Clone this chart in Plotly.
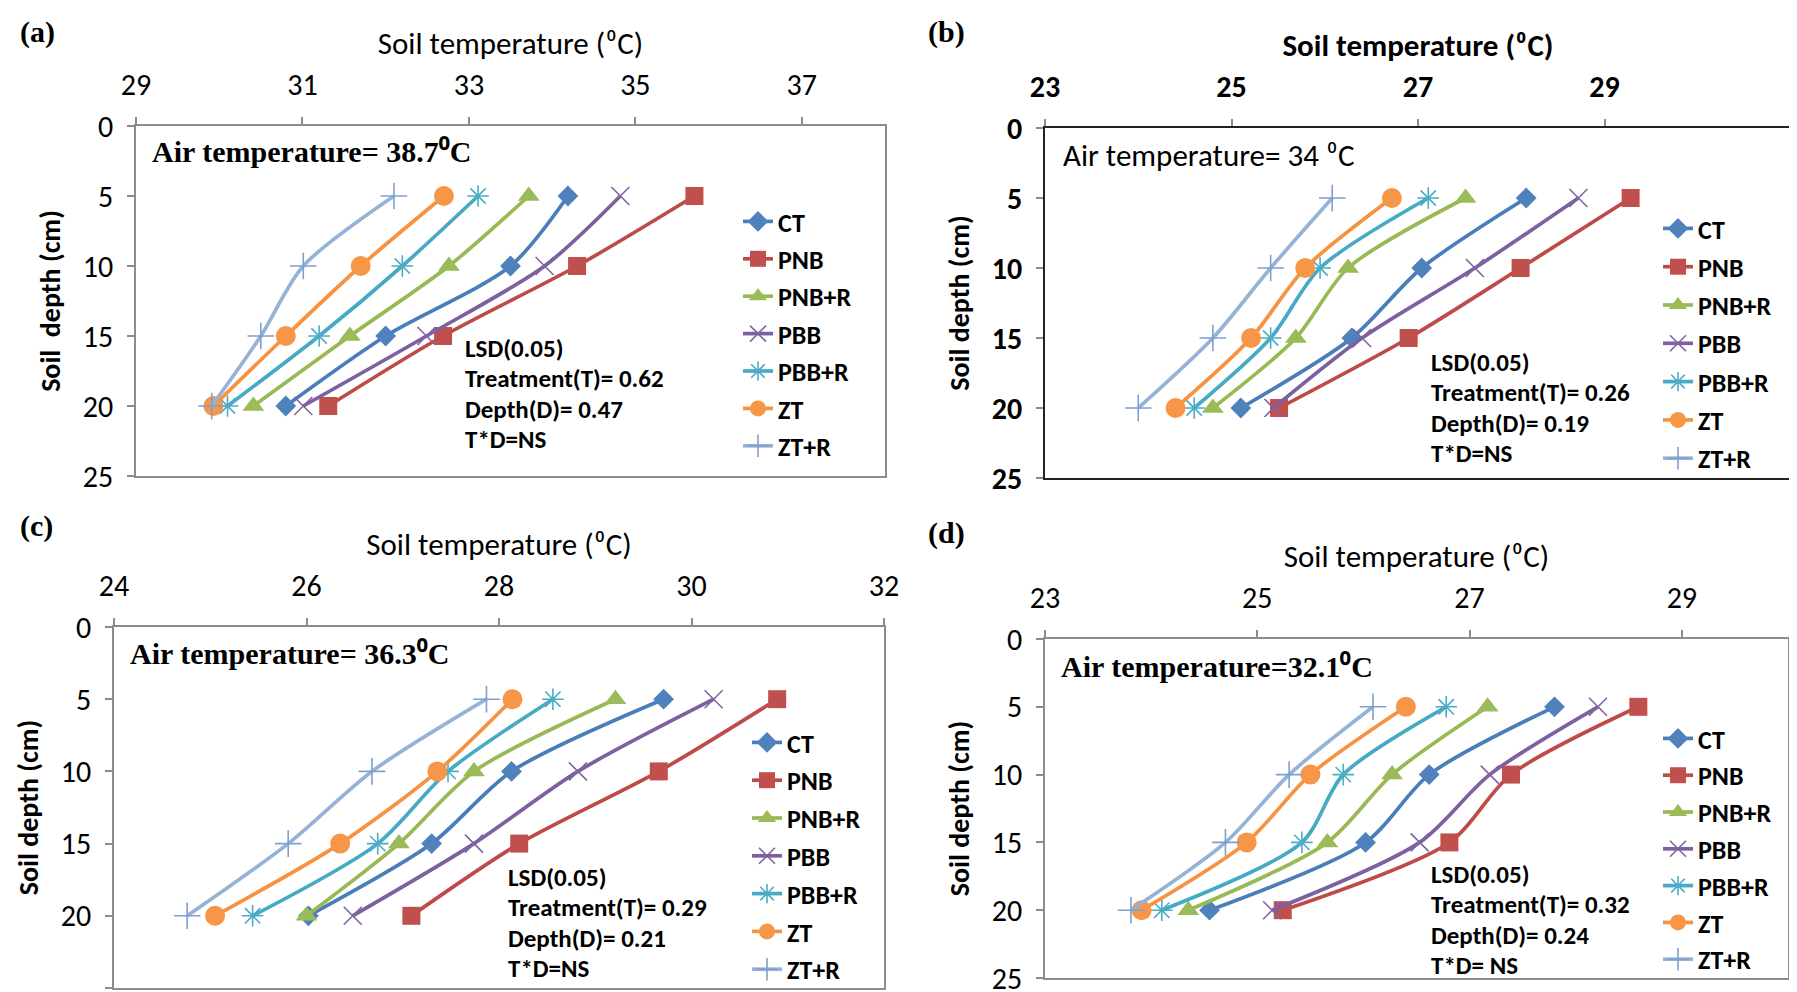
import plotly.graph_objects as go

# ---------------- data ----------------
depth = [5, 10, 15, 20]
treatments = ["CT", "PNB", "PNB+R", "PBB", "PBB+R", "ZT", "ZT+R"]
x_tick_a = [29, 31, 33, 35, 37]
x_tick_b = [23, 25, 27, 29, 31]
x_tick_c = [24, 26, 28, 30, 32]
x_tick_d = [23, 25, 27, 29]
depth_ticks = [0, 5, 10, 15, 20, 25]

# (a) air temperature 38.7 C
ct_a = [34.19, 33.50, 32.00, 30.80]
pnb_a = [35.71, 34.30, 32.69, 31.31]
pnbr_a = [33.72, 32.76, 31.57, 30.41]
pbb_a = [34.82, 33.91, 32.49, 31.01]
pbbr_a = [33.11, 32.20, 31.20, 30.10]
zt_a = [32.70, 31.70, 30.80, 29.93]
ztr_a = [32.10, 31.01, 30.50, 29.91]

# (b) air temperature 34 C
ct_b = [28.16, 27.04, 26.29, 25.10]
pnb_b = [29.28, 28.10, 26.90, 25.51]
pnbr_b = [27.51, 26.25, 25.69, 24.80]
pbb_b = [28.72, 27.61, 26.40, 25.45]
pbbr_b = [27.11, 25.95, 25.42, 24.60]
zt_b = [26.72, 25.79, 25.21, 24.40]
ztr_b = [26.08, 25.42, 24.80, 24.00]

# (c) air temperature 36.3 C
ct_c = [29.71, 28.13, 27.30, 26.02]
pnb_c = [30.89, 29.66, 28.21, 27.09]
pnbr_c = [29.21, 27.74, 26.96, 26.00]
pbb_c = [30.23, 28.82, 27.74, 26.48]
pbbr_c = [28.56, 27.47, 26.74, 25.44]
zt_c = [28.14, 27.36, 26.35, 25.05]
ztr_c = [27.87, 26.68, 25.81, 24.76]

# (d) air temperature 32.1 C
ct_d = [27.80, 26.62, 26.02, 24.55]
pnb_d = [28.59, 27.39, 26.81, 25.24]
pnbr_d = [27.17, 26.27, 25.66, 24.35]
pbb_d = [28.21, 27.19, 26.53, 25.14]
pbbr_d = [26.78, 25.81, 25.42, 24.10]
zt_d = [26.40, 25.50, 24.90, 23.91]
ztr_d = [26.09, 25.30, 24.70, 23.81]

# ---------------- styles ----------------
CAL = "Carlito, Lato, sans-serif"
TIMES = "'Liberation Serif', 'Times New Roman', serif"
W, H = 1797, 992
DEG = "\u2070C"

line_colors = ["#4A7EBB", "#BE4B48", "#98B954", "#7D60A0", "#46AAC5", "#F69240", "#95B3D7"]
marker_colors = ["#4F81BD", "#C0504D", "#9BBB59", "#8064A2", "#4BACC6", "#F79646", "#7F9FD0"]
symbols = ["diamond", "square", "triangle-up", "x-thin-open", "asterisk-open", "circle", "cross-thin-open"]
msizes = [16, 18, 19, 18, 18, 20, 19]


def px_x(v):
    return v / W


def px_y(v):
    return 1 - v / H


panels = [
    dict(key="a", series=[ct_a, pnb_a, pnbr_a, pbb_a, pbbr_a, zt_a, ztr_a], ticks=x_tick_a,
         xr=[29, 38], dom_x=[128, 877], dom_y=[118, 468],
         air="Air temperature= 38.7" + DEG, air_font=TIMES, air_bold=True, air_size=30,
         air_pos=(142, 143),
         lsd=["0.62", "0.47", "T*D=NS"], lsd_pos=(455, 340),
         leg_pos=(730, 190), leg_gap=0.6, letter_pos=(10, 24),
         ytitle="Soil  depth (cm)", heavy=False),
    dict(key="b", series=[ct_b, pnb_b, pnbr_b, pbb_b, pbbr_b, zt_b, ztr_b], ticks=x_tick_b,
         xr=[23, 31], dom_x=[1037, 1783], dom_y=[120, 470],
         air="Air temperature= 34 " + DEG, air_font=CAL, air_bold=False, air_size=31,
         air_pos=(1053, 147),
         lsd=["0.26", "0.19", "T*D=NS"], lsd_pos=(1421, 354),
         leg_pos=(1650, 197), leg_gap=1.5, letter_pos=(918, 24),
         ytitle="Soil depth (cm)", heavy=True),
    dict(key="c", series=[ct_c, pnb_c, pnbr_c, pbb_c, pbbr_c, zt_c, ztr_c], ticks=x_tick_c,
         xr=[24, 32], dom_x=[106, 876], dom_y=[619, 980],
         air="Air temperature= 36.3" + DEG, air_font=TIMES, air_bold=True, air_size=30,
         air_pos=(120, 645),
         lsd=["0.29", "0.21", "T*D=NS"], lsd_pos=(498, 869),
         leg_pos=(739, 711), leg_gap=1.0, letter_pos=(10, 518),
         ytitle="Soil depth (cm)", heavy=False),
    dict(key="d", series=[ct_d, pnb_d, pnbr_d, pbb_d, pbbr_d, zt_d, ztr_d], ticks=x_tick_d,
         xr=[23, 30], dom_x=[1037, 1780], dom_y=[631, 970],
         air="Air temperature=32.1" + DEG, air_font=TIMES, air_bold=True, air_size=30,
         air_pos=(1051, 658),
         lsd=["0.32", "0.24", "T*D= NS"], lsd_pos=(1421, 866),
         leg_pos=(1650, 707), leg_gap=0.0, letter_pos=(918, 525),
         ytitle="Soil depth (cm)", heavy=False),
]

fig = go.Figure()
annotations = []
layout = {}

for i, p in enumerate(panels):
    n = i + 1
    xa = "x" if n == 1 else f"x{n}"
    ya = "y" if n == 1 else f"y{n}"
    leg = "legend" if n == 1 else f"legend{n}"
    for j, name in enumerate(treatments):
        sym = symbols[j]
        thin = sym.endswith("open")
        marker = dict(symbol=sym, size=msizes[j],
                      color=marker_colors[j],
                      line=dict(width=1.6 if thin else 0, color=marker_colors[j]))
        fig.add_trace(go.Scatter(
            x=p["series"][j], y=depth, name=name, mode="lines+markers",
            line=dict(color=line_colors[j], width=3.7, shape="spline", smoothing=0.8),
            marker=marker, xaxis=xa, yaxis=ya, legend=leg, showlegend=True,
            legendgroup=f"{p['key']}_{j}",
        ))

    weight = "bold" if p["heavy"] else "normal"
    tick_font = dict(family=CAL, size=30, color="#000000", weight=weight)
    frame_col = "#222222" if p["heavy"] else "#8C8C8C"
    layout["xaxis" if n == 1 else f"xaxis{n}"] = dict(
        domain=[px_x(p["dom_x"][0]), px_x(p["dom_x"][1])],
        anchor=ya, side="top", range=p["xr"], tickvals=p["ticks"], automargin=False,
        ticks="outside", ticklen=7, tickcolor="#8C8C8C", tickwidth=1.5, ticklabelstandoff=10,
        showline=True, linecolor=frame_col, linewidth=1.5, mirror=True,
        showgrid=False, zeroline=False, tickfont=tick_font,
        title=dict(text="Soil temperature (" + DEG + ")",
                   font=dict(family=CAL, size=31, color="#000000", weight=weight),
                   standoff=2),
    )
    layout["yaxis" if n == 1 else f"yaxis{n}"] = dict(
        domain=[px_y(p["dom_y"][1]), px_y(p["dom_y"][0])],
        anchor=xa, range=[25, 0], tickvals=depth_ticks, automargin=False,
        ticks="outside", ticklen=7, tickcolor="#8C8C8C", tickwidth=1.5, ticklabelstandoff=8,
        showline=True, linecolor=frame_col, linewidth=1.5, mirror=True,
        showgrid=False, zeroline=False, tickfont=tick_font,
        title=dict(text=p["ytitle"], font=dict(family=CAL, size=28, color="#000000", weight="bold"),
                   standoff=14),
    )
    layout[leg] = dict(
        x=px_x(p["leg_pos"][0]), y=px_y(p["leg_pos"][1]), xanchor="left", yanchor="top",
        bgcolor="rgba(0,0,0,0)", borderwidth=0, tracegroupgap=p["leg_gap"],
        font=dict(family=CAL, size=26, color="#000000", weight="bold"),
        itemwidth=30,
    )

    # panel letter
    annotations.append(dict(text=f"({p['key']})", x=px_x(p["letter_pos"][0]), y=px_y(p["letter_pos"][1]),
                            xref="paper", yref="paper", xanchor="left", yanchor="middle",
                            showarrow=False, font=dict(family=TIMES, size=30, color="#000000", weight="bold")))
    # air temperature
    annotations.append(dict(text=p["air"], x=px_x(p["air_pos"][0]), y=px_y(p["air_pos"][1]),
                            xref="paper", yref="paper", xanchor="left", yanchor="middle",
                            showarrow=False,
                            font=dict(family=p["air_font"], size=p["air_size"], color="#000000",
                                      weight="bold" if p["air_bold"] else "normal")))
    # LSD block, one line per annotation
    lsd_lines = ["LSD(0.05)", "Treatment(T)= " + p["lsd"][0], "Depth(D)= " + p["lsd"][1], p["lsd"][2]]
    for k, txt in enumerate(lsd_lines):
        annotations.append(dict(text=txt, x=px_x(p["lsd_pos"][0]), y=px_y(p["lsd_pos"][1] + 30.5 * k),
                                xref="paper", yref="paper", xanchor="left", yanchor="middle",
                                showarrow=False,
                                font=dict(family=CAL, size=25, color="#000000", weight="bold")))

fig.update_layout(
    width=W, height=H, margin=dict(l=0, r=0, t=0, b=0, autoexpand=False),
    paper_bgcolor="#FFFFFF", plot_bgcolor="#FFFFFF",
    annotations=annotations, **layout,
)

fig.write_html("out.html")
